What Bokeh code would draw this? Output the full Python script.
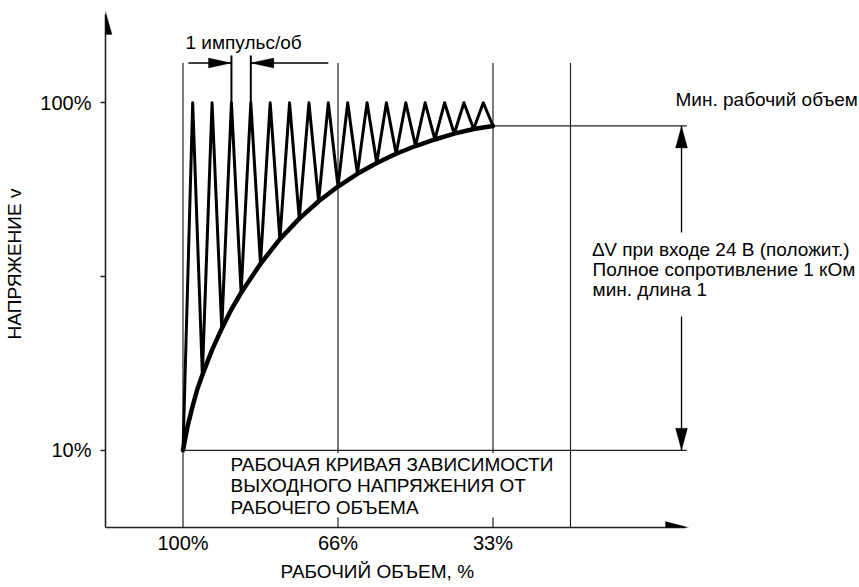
import numpy as np
from bokeh.plotting import figure
from bokeh.models import (FixedTicker, Label, BoxAnnotation, PolyAnnotation,
                          Range1d, Title)
from bokeh.embed import file_html
from bokeh.resources import INLINE

# ---------------- data ----------------
X_TICKS = [0, 8, 16]
X_TICK_LABELS = ["100%", "66%", "33%"]
Y_TICKS = [10, 55, 100]
Y_TICK_LABELS = ["10%", "", "100%"]

# sawtooth: troughs lie on the envelope, peaks reach 100 %
TROUGH_X = [0, 1, 2, 3, 4, 5, 6, 7, 8, 9, 10, 11, 12, 13, 14, 15, 16]
TROUGH_V = [10, 29.5, 41.5, 50.8, 58.3, 64.7, 70.0, 74.5, 78.3, 81.6, 84.4,
            86.8, 88.8, 90.5, 92.0, 93.2, 94.0]
PEAK_X = [0.5, 1.5, 2.5, 3.5, 4.5, 5.5, 6.5, 7.5, 8.5, 9.5, 10.5, 11.5,
          12.5, 13.5, 14.5, 15.5]
PEAK_V = [100, 100, 100, 100, 100, 100, 100, 100, 100, 100, 100, 100,
          100, 100, 100, 100]

# envelope (working curve)
ENV_X = [0, 0.25, 0.5, 0.75, 1, 1.5, 2, 2.5, 3, 4, 5, 6, 7, 8, 9, 10, 11,
         12, 13, 14, 15, 16]
ENV_V = [10, 16.5, 21.5, 26.0, 29.5, 36.0, 41.5, 46.5, 50.8, 58.3, 64.7,
         70.0, 74.5, 78.3, 81.6, 84.4, 86.8, 88.8, 90.5, 92.0, 93.2, 94.0]

GUIDE_X = [0, 8, 16, 20]          # vertical reference lines
PULSE_MARK_X = [2.5, 3.5]         # one pulse per revolution

# ---------------- layout ----------------
FONT = "Liberation Sans"
FS = "19px"
TICK_FS = "20px"
W, H = 859, 587
ML, MB = 105, 60
X0, PXX = -4.0, 19.375           # data start, px per x unit
Y0, PXY = -10.0, 3.861           # data start, px per y unit
X1 = X0 + (W - ML) / PXX
Y1 = Y0 + (H - MB) / PXY

LINE_C = "#222222"
GUIDE_TOP = 110.3
DIM_Y = 110.3
X_TIP = 26.09
Y_TIP = 123.64
DARROW_X = 25.73
RIGHT_END = 26.0

p = figure(width=W, height=H, x_range=Range1d(X0, X1), y_range=Range1d(Y0, Y1),
           output_backend="svg", toolbar_location=None,
           min_border_left=ML, min_border_bottom=MB,
           min_border_top=0, min_border_right=0)
p.background_fill_color = "white"
p.border_fill_color = "white"
p.outline_line_color = None
p.xgrid.visible = False
p.ygrid.visible = False

# axes
p.xaxis.ticker = FixedTicker(ticks=X_TICKS, minor_ticks=[])
p.xaxis.major_label_overrides = dict(zip(X_TICKS, X_TICK_LABELS))
p.xaxis.bounds = (X0, X_TIP - 3 / PXX)
p.xaxis.major_tick_out = 0
p.xaxis.major_tick_in = 0
p.xaxis.minor_tick_out = 0
p.xaxis.major_label_standoff = 4

p.yaxis.ticker = FixedTicker(ticks=Y_TICKS, minor_ticks=[])
p.yaxis.major_label_overrides = dict(zip(Y_TICKS, Y_TICK_LABELS))
p.yaxis.bounds = (Y0, Y_TIP - 3 / PXY)
p.yaxis.major_tick_out = 5
p.yaxis.major_tick_in = 0
p.yaxis.minor_tick_out = 0
p.yaxis.major_label_standoff = 9
p.yaxis.axis_label = "НАПРЯЖЕНИЕ v"
p.yaxis.axis_label_standoff = 12
p.yaxis.axis_label_text_font = FONT
p.yaxis.axis_label_text_font_size = FS
p.yaxis.axis_label_text_font_style = "normal"
p.yaxis.axis_label_text_color = "black"

for ax in (p.xaxis, p.yaxis):
    ax.axis_line_color = LINE_C
    ax.axis_line_width = 1.6
    ax.major_tick_line_color = LINE_C
    ax.major_tick_line_width = 1.4
    ax.major_label_text_font = FONT
    ax.major_label_text_font_size = TICK_FS
    ax.major_label_text_color = "black"
    ax.major_label_text_font_style = "normal"

# x-axis title placed in the panel below the axis
p.add_layout(Title(text="РАБОЧИЙ ОБЪЕМ, %", align="left", offset=175,
                   text_font=FONT, text_font_size=FS, text_font_style="normal",
                   text_color="black", standoff=4, vertical_align="bottom"),
             "below")

# guide lines
n = len(GUIDE_X)
p.segment(x0=GUIDE_X, y0=[Y0] * n, x1=GUIDE_X, y1=[GUIDE_TOP] * n,
          line_color=LINE_C, line_width=1.2)
# horizontal reference lines (10 % level and minimum-volume level)
p.segment(x0=[X_TICKS[0], X_TICKS[-1]], y0=[Y_TICKS[0], TROUGH_V[-1]],
          x1=[RIGHT_END, RIGHT_END], y1=[Y_TICKS[0], TROUGH_V[-1]],
          line_color=LINE_C, line_width=1.3)
# double arrow shaft
p.segment(x0=[DARROW_X], y0=[Y_TICKS[0]], x1=[DARROW_X], y1=[TROUGH_V[-1]],
          line_color="black", line_width=1.3)
# dimension line for one pulse
p.segment(x0=[0.28, PULSE_MARK_X[1]], y0=[DIM_Y, DIM_Y],
          x1=[PULSE_MARK_X[0], 7.5], y1=[DIM_Y, DIM_Y],
          line_color="black", line_width=1.6)
p.segment(x0=PULSE_MARK_X, y0=[PEAK_V[2], PEAK_V[3]], x1=PULSE_MARK_X,
          y1=[112.25, 112.25], line_color="black", line_width=2)

# sawtooth
saw_x, saw_v = [], []
for i in range(len(PEAK_X)):
    saw_x += [TROUGH_X[i], PEAK_X[i]]
    saw_v += [TROUGH_V[i], PEAK_V[i]]
saw_x.append(TROUGH_X[-1])
saw_v.append(TROUGH_V[-1])
p.line(saw_x, saw_v, line_color="black", line_width=3, line_join="round",
       line_cap="round")
# envelope
p.line(ENV_X, ENV_V, line_color="black", line_width=4.5, line_join="round",
       line_cap="round")


def head(tx, ty, d, L, hw):
    if d == "up":
        return [tx, tx - hw / PXX, tx + hw / PXX], [ty, ty - L / PXY, ty - L / PXY]
    if d == "down":
        return [tx, tx - hw / PXX, tx + hw / PXX], [ty, ty + L / PXY, ty + L / PXY]
    if d == "right":
        return [tx, tx - L / PXX, tx - L / PXX], [ty, ty + hw / PXY, ty - hw / PXY]
    return [tx, tx + L / PXX, tx + L / PXX], [ty, ty + hw / PXY, ty - hw / PXY]


heads = [
    head(X0, Y_TIP, "up", 23, 6.5),
    head(X_TIP, Y0, "right", 23, 6.0),
    head(DARROW_X, TROUGH_V[-1], "up", 22, 6.0),
    head(DARROW_X, Y_TICKS[0], "down", 22, 6.0),
    head(PULSE_MARK_X[0], DIM_Y, "right", 23, 5.0),
    head(PULSE_MARK_X[1], DIM_Y, "left", 23, 5.0),
]
for xs, ys in heads:
    p.add_layout(PolyAnnotation(xs=xs, ys=ys, fill_color="black", fill_alpha=1.0,
                                line_color="black", line_width=1))

# white boxes behind text blocks
p.add_layout(BoxAnnotation(left=2.27, right=19.61, bottom=-7.41, top=9.30,
                           fill_color="white", fill_alpha=1.0, line_color=None))
p.add_layout(BoxAnnotation(left=20.93, right=X1, bottom=44.65, top=66.4,
                           fill_color="white", fill_alpha=1.0, line_color=None))


def lab(x, y, text, align="left", angle=0.0):
    p.add_layout(Label(x=x, y=y, text=text, text_font=FONT, text_font_size=FS,
                       text_color="black", text_align=align,
                       text_baseline="middle", angle=angle))


lab(0.13, 115.6, "1 импульс/об")
lab(25.42, 100.85, "Мин. рабочий объем")
lab(21.14, 62.0, "∆V при входе 24 В (положит.)")
lab(21.14, 56.82, "Полное сопротивление 1 кОм")
lab(21.14, 51.64, "мин. длина 1")
lab(2.45, 6.32, "РАБОЧАЯ КРИВАЯ ЗАВИСИМОСТИ")
lab(2.45, 0.75, "ВЫХОДНОГО НАПРЯЖЕНИЯ ОТ")
lab(2.45, -4.82, "РАБОЧЕГО ОБЪЕМА")

open("out.html", "w").write(file_html(p, INLINE))
